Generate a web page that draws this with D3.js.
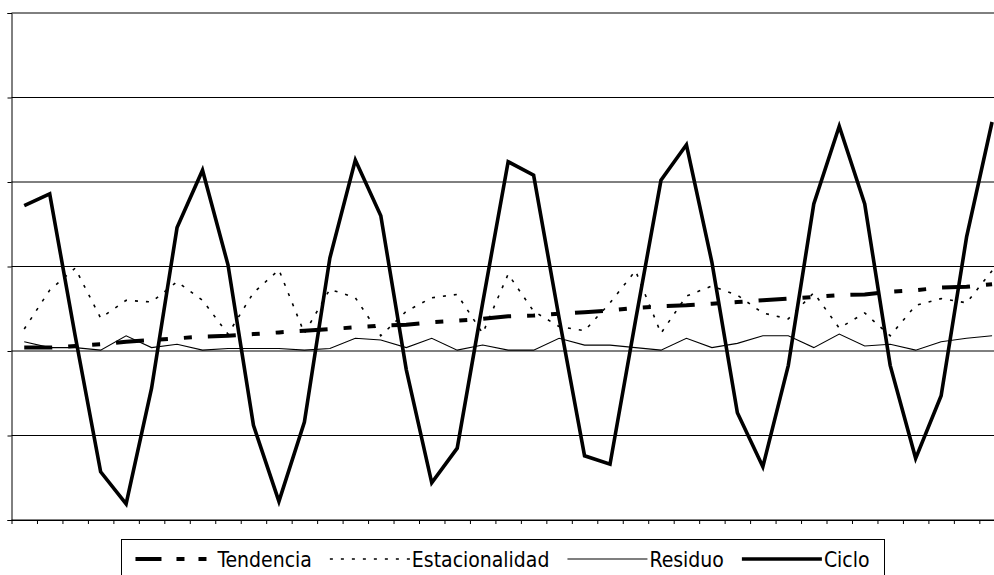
<!DOCTYPE html>
<html>
<head>
<meta charset="utf-8">
<script src="https://cdn.jsdelivr.net/npm/d3@7/dist/d3.min.js"></script>
<style>
  html, body { margin: 0; padding: 0; background: #fff; }
  svg { display: block; }
  .legend text { font-family: "DejaVu Sans Condensed", "DejaVu Sans", sans-serif; font-stretch: condensed; }
</style>
</head>
<body>
<svg id="chart" width="994" height="575"></svg>
<script>
// ---- Data ----
const periods = d3.range(1, 40); // 39 observations, unlabeled category axis
const yTicks = [-20, -10, 0, 10, 20, 30, 40];

const tendencia = [0.4, 0.4, 0.6, 0.8, 1.1, 1.3, 1.5, 1.7, 1.8, 2.0,
                   2.2, 2.4, 2.6, 2.8, 3.0, 3.1, 3.4, 3.6, 3.8, 4.1,
                   4.2, 4.4, 4.6, 4.8, 5.1, 5.3, 5.4, 5.6, 5.8, 6.0,
                   6.2, 6.4, 6.6, 6.7, 7.0, 7.2, 7.5, 7.6, 7.9];

const estacionalidad = [2.6, 7.2, 9.8, 3.9, 6.0, 5.8, 8.2, 6.0, 2.0, 6.9,
                        9.6, 2.1, 7.3, 6.3, 1.8, 4.7, 6.3, 6.7, 2.1, 9.1,
                        4.7, 2.9, 2.4, 5.7, 9.5, 2.1, 6.5, 7.7, 6.6, 4.5,
                        3.8, 6.9, 2.7, 4.5, 1.8, 5.4, 6.2, 5.7, 9.5];

const residuo = [1.1, 0.4, 0.4, 0.1, 1.8, 0.4, 0.8, 0.1, 0.3, 0.3,
                 0.3, 0.1, 0.3, 1.5, 1.3, 0.4, 1.5, 0.1, 0.7, 0.1,
                 0.1, 1.5, 0.7, 0.7, 0.4, 0.1, 1.5, 0.4, 0.9, 1.8,
                 1.8, 0.4, 2.0, 0.6, 0.8, 0.1, 1.1, 1.5, 1.8];

const ciclo = [17.2, 18.6, 1.8, -14.3, -18.1, -4.4, 14.6, 21.4, 10.2, -8.8,
               -17.8, -8.4, 11.0, 22.6, 16.0, -2.2, -15.6, -11.5, 5.7, 22.4,
               20.8, 3.9, -12.4, -13.4, 3.6, 20.2, 24.4, 10.5, -7.3, -13.7,
               -1.7, 17.4, 26.6, 17.4, -1.7, -12.7, -5.3, 13.5, 27.1];

const seriesNames = ["Tendencia", "Estacionalidad", "Residuo", "Ciclo"];

// ---- Layout ----
const svg = d3.select("#chart");
const plotLeft = 11.5, plotRight = 1004.8, plotTop = 13, plotBottom = 520;

const xEdge = d3.scaleLinear().domain([0, periods.length]).range([plotLeft, plotRight]);
const xPos = i => xEdge(i + 0.5);
const y = d3.scaleLinear().domain([-20, 40]).range([plotBottom, plotTop]);

// gridlines
const grid = svg.append("g").attr("class", "grid");
grid.selectAll("line").data(yTicks).join("line")
  .attr("x1", plotLeft).attr("x2", plotRight)
  .attr("y1", d => y(d)).attr("y2", d => y(d))
  .attr("stroke", "#000").attr("stroke-width", 1);

// y axis (labels are outside the visible frame)
const yAxis = svg.append("g")
  .attr("transform", `translate(${plotLeft},0)`)
  .call(d3.axisLeft(y).tickValues(yTicks).tickSize(4).tickFormat(""));
yAxis.select(".domain").attr("stroke", "#000");
yAxis.selectAll(".tick line").attr("stroke", "#000");

// x axis
const xAxis = svg.append("g")
  .attr("transform", `translate(0,${plotBottom})`)
  .call(d3.axisBottom(xEdge).tickValues(d3.range(periods.length + 1)).tickSize(4).tickSizeOuter(0).tickFormat(""));
xAxis.select(".domain").attr("stroke", "#000");
xAxis.selectAll(".tick line").attr("stroke", "#000");

// ---- Series ----
const line = d3.line().x((d, i) => xPos(i)).y(d => y(d));

const styles = {
  Tendencia:      { data: tendencia,      width: 4,   dash: "28,16,8,16,8,16", legendDash: "26,15,8,14,8,14" },
  Estacionalidad: { data: estacionalidad, width: 1.6, dash: "3,8",             legendDash: "3,8" },
  Residuo:        { data: residuo,        width: 1.1, dash: null,              legendDash: null },
  Ciclo:          { data: ciclo,          width: 3.6, dash: null,              legendDash: null }
};

seriesNames.forEach(name => {
  const s = styles[name];
  svg.append("path")
    .datum(s.data)
    .attr("fill", "none")
    .attr("stroke", "#000")
    .attr("stroke-width", s.width)
    .attr("stroke-linejoin", "miter")
    .attr("stroke-linecap", "butt")
    .attr("stroke-dasharray", s.dash)
    .attr("d", line);
});

// ---- Legend ----
const legend = svg.append("g").attr("class", "legend");
const fontSize = 21;
const sampleW = 80, gapAfterSample = 2, gapAfterText = 18;
const legendY = 559;
let cx = 0;
const lgInner = legend.append("g");
seriesNames.forEach(name => {
  const s = styles[name];
  const g = lgInner.append("g");
  g.append("line")
    .attr("x1", 0).attr("x2", sampleW).attr("y1", 0).attr("y2", 0)
    .attr("stroke", "#000").attr("stroke-width", s.width)
    .attr("stroke-dasharray", s.legendDash);
  const t = g.append("text")
    .attr("x", sampleW + gapAfterSample).attr("y", 0)
    .attr("dy", "0.36em")
    .attr("font-size", fontSize)
    .attr("fill", "#000")
    .text(name);
  const tw = t.node().getComputedTextLength();
  g.attr("transform", `translate(${cx},${legendY})`);
  cx += sampleW + gapAfterSample + tw + gapAfterText;
});
const totalW = cx - gapAfterText;
const boxLeft = 121, boxRight = 884;
const startX = (boxLeft + boxRight) / 2 - totalW / 2;
lgInner.attr("transform", `translate(${startX},0)`);
legend.insert("rect", ":first-child")
  .attr("x", boxLeft + 0.5).attr("y", 539.5)
  .attr("width", boxRight - boxLeft).attr("height", 45)
  .attr("fill", "#fff").attr("stroke", "#000").attr("stroke-width", 1);
</script>
</body>
</html>
